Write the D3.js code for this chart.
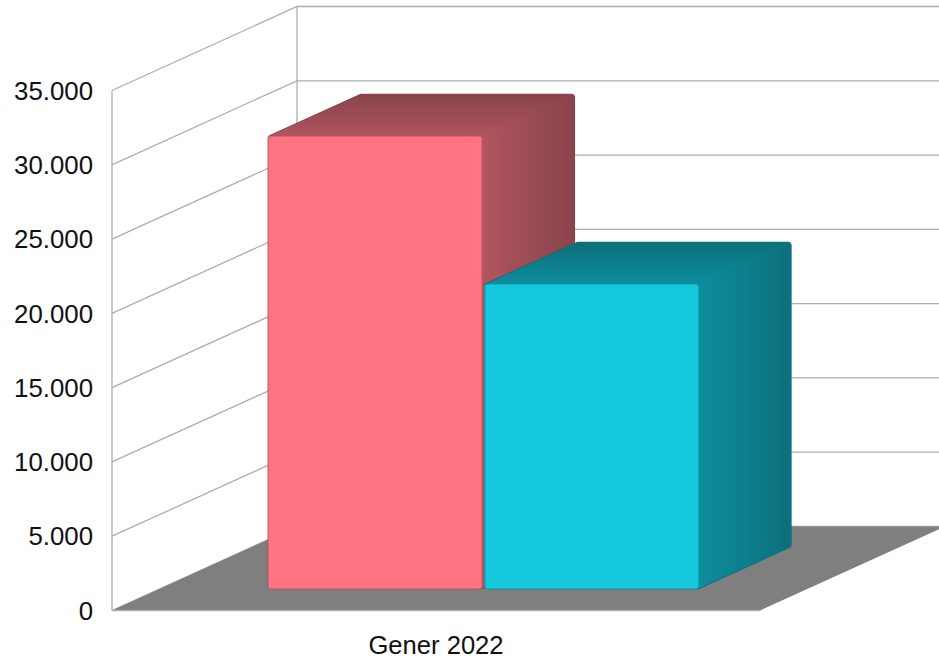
<!DOCTYPE html>
<html><head><meta charset="utf-8">
<script src="https://cdn.jsdelivr.net/npm/d3@7"></script>
<style>html,body{margin:0;padding:0;background:#fff;overflow:hidden}svg{display:block}text{font-family:"Liberation Sans",Arial,sans-serif;fill:#111}</style>
</head><body><svg id="c" width="939" height="659"></svg>
<script>
const category = "Gener 2022";
const seriesNames = ["A", "B"];
const seriesValues = [30420, 20460];
const yTicks = [0, 5000, 10000, 15000, 20000, 25000, 30000, 35000];
const frontColors = ["#ff7382", "#13c8de"];
const topColors = [["#b0555f", "#8a434c"], ["#0f8e9e", "#0a6f7b"]];
const sideColors = [["#b0555f", "#8a434c"], ["#0f8e9e", "#0a6f7b"]];

const svg = d3.select("#c");
const x = d3.scaleBand().domain(seriesNames).range([112, 760]).paddingInner(0.0152).paddingOuter(0.5035).align(0.495);
const y = d3.scaleLinear().domain([0, 35000]).range([610.5, 90.5]);
const zx = d3.scaleLinear().domain([0, 1]).range([0, 185]);
const zy = d3.scaleLinear().domain([0, 1]).range([0, -84]);
const P = (px, v, z) => [px + zx(z), y(v) + zy(z)];
const line = d3.line();
const fmt = d3.formatLocale({decimal: ",", thousands: ".", grouping: [3], currency: ["", "€"]}).format(",d");
const [x0, x1] = x.range();
const gridCol = "#adadad";

// walls and grid
const grid = svg.append("g").attr("fill", "none").attr("stroke", gridCol).attr("stroke-width", 1.3);
yTicks.forEach(t => {
  grid.append("path").attr("d", line([P(x0, t, 0), P(x0, t, 1), P(x1, t, 1)]));
});
grid.append("path").attr("d", line([P(x0, 0, 0), P(x0, 35000, 0)]));
grid.append("path").attr("d", line([P(x0, 0, 1), P(x0, 35000, 1)]));

// floor
svg.append("path")
  .attr("d", line([P(x0, 0, 0), P(x0, 0, 1), P(x1, 0, 1), P(x1, 0, 0)]) + "Z")
  .attr("fill", "#7f7f7f");
svg.append("path").attr("d", line([P(x0, 0, 0), P(x1, 0, 0)])).attr("stroke", gridCol).attr("stroke-width", 1.3).attr("fill", "none");

// gradients
const defs = svg.append("defs");
const soft = defs.append("filter").attr("id", "soft").attr("x", "-5%").attr("y", "-5%").attr("width", "110%").attr("height", "110%");
soft.append("feGaussianBlur").attr("stdDeviation", 0.6);
function grad(id, cols, horizontal) {
  const g = defs.append("linearGradient").attr("id", id)
    .attr("x1", 0).attr("y1", horizontal ? 0 : 1).attr("x2", horizontal ? 1 : 0).attr("y2", 0);
  g.append("stop").attr("offset", 0).attr("stop-color", cols[0]);
  g.append("stop").attr("offset", 1).attr("stop-color", cols[1]);
}
function roundedPoly(pts, rad) {
  const p = d3.path(), n = pts.length;
  const mid = (a, b) => [(a[0] + b[0]) / 2, (a[1] + b[1]) / 2];
  const s = mid(pts[n - 1], pts[0]);
  p.moveTo(s[0], s[1]);
  pts.forEach((c, k) => {
    const nx = pts[(k + 1) % n];
    p.arcTo(c[0], c[1], nx[0], nx[1], rad);
  });
  p.closePath();
  return p.toString();
}
const zF = 0.262, zB = 0.762;
const closed = d3.line().curve(d3.curveLinearClosed);
seriesNames.forEach((s, i) => {
  const v = seriesValues[i], l = x(s), r = l + x.bandwidth();
  grad("top" + i, topColors[i], false);
  grad("side" + i, sideColors[i], true);
  const silhouette = roundedPoly([P(l, v, zF), P(l, v, zB), P(r, v, zB), P(r, 0, zB), P(r, 0, zF), P(l, 0, zF)], 3);
  defs.append("clipPath").attr("id", "clip" + i).append("path").attr("d", silhouette);
  const g = svg.append("g").attr("filter", "url(#soft)");
  g.append("path").attr("d", silhouette).attr("fill", topColors[i][1])
    .attr("stroke", topColors[i][1]).attr("stroke-width", 1.6);
  const body = g.append("g").attr("clip-path", `url(#clip${i})`);
  body.append("path").attr("d", closed([P(r, 0, zF), P(r, 0, zB), P(r, v, zB), P(r, v, zF)]))
    .attr("fill", `url(#side${i})`).attr("stroke", sideColors[i][0]).attr("stroke-opacity", 0.5).attr("stroke-width", 0.5);
  body.append("path").attr("d", closed([P(l, v, zF), P(l, v, zB), P(r, v, zB), P(r, v, zF)]))
    .attr("fill", `url(#top${i})`);
  const a = P(l, v, zF), b = P(r, 0, zF);
  g.append("rect").attr("x", a[0]).attr("y", a[1]).attr("width", b[0] - a[0]).attr("height", b[1] - a[1]).attr("rx", 2)
    .attr("fill", frontColors[i]).attr("stroke", d3.color(frontColors[i]).darker(0.35)).attr("stroke-width", 1);
});

// axis labels
const axis = d3.axisLeft(y).tickValues(yTicks).tickFormat(fmt).tickSize(0).tickPadding(19);
const ax = svg.append("g").attr("transform", `translate(${x0},0)`).call(axis);
ax.select(".domain").remove();
ax.selectAll("text").attr("font-size", 25.8).attr("font-family", '"Liberation Sans"').attr("fill", "#111").attr("dy", "0.34em");
svg.append("text").attr("x", 436).attr("y", 654).attr("text-anchor", "middle").attr("font-size", 25.6).text(category);
</script></body></html>
